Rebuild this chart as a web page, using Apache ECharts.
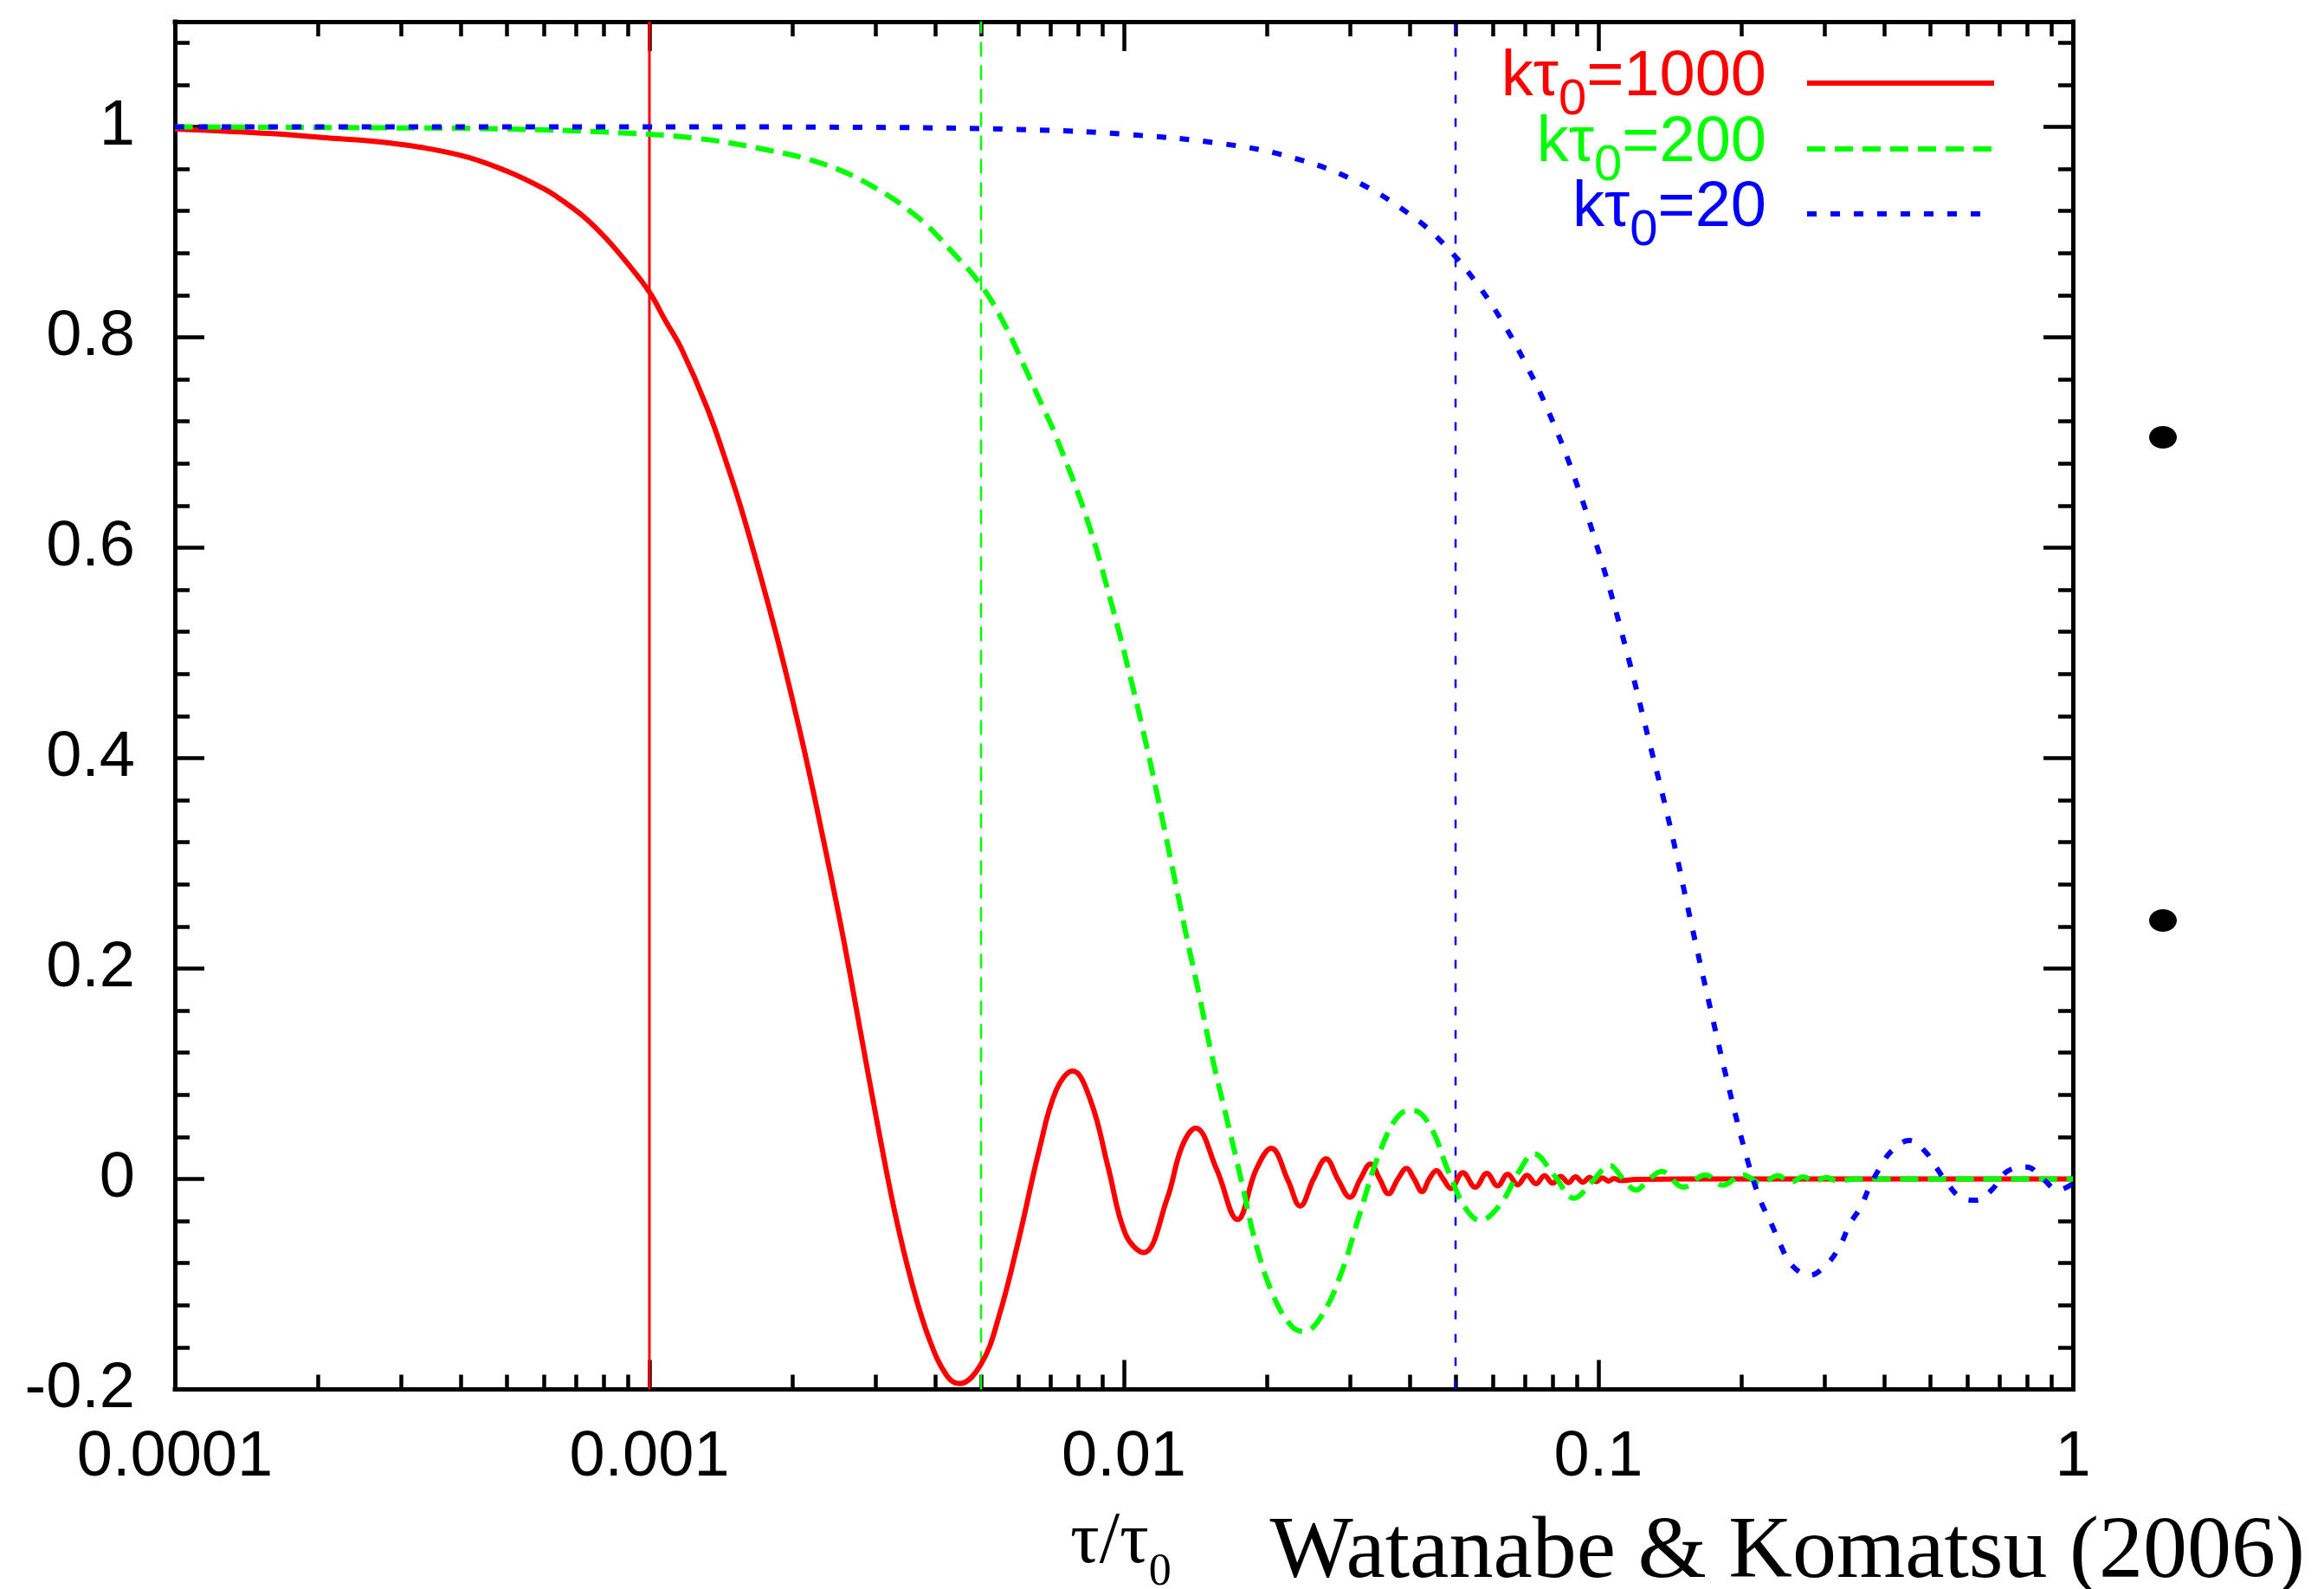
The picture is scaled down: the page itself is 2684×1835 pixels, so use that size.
<!DOCTYPE html>
<html>
<head>
<meta charset="utf-8">
<script src="https://cdn.jsdelivr.net/npm/echarts@6/dist/echarts.min.js"></script>
<style>
html,body{margin:0;padding:0;background:#ffffff;}
#chart{width:2684px;height:1835px;}
</style>
</head>
<body>
<div id="chart"></div>
<script>
// ---------------- data ----------------
const seriesNames = ['kτ0=1000', 'kτ0=200', 'kτ0=20'];
const legendValues = ['1000', '200', '20'];

const redX = [0.0001, 0.00016, 0.00021, 0.00028, 0.0004, 0.0005, 0.0006, 0.00066, 0.00073, 0.00081, 0.0009, 0.001, 0.00108, 0.001167,
  0.001323, 0.00146, 0.001588, 0.001852, 0.0021, 0.002317, 0.002556, 0.00278, 0.003023, 0.003289,
  0.003578, 0.00389, 0.00423, 0.0045, 0.005, 0.00545, 0.006, 0.00662, 0.0072, 0.0078,
  0.00852, 0.00927, 0.01008, 0.0110, 0.01233, 0.01326, 0.01417, 0.01569, 0.01736, 0.019,
  0.02045, 0.0222, 0.02352, 0.0251, 0.02667, 0.0283, 0.02994, 0.0315, 0.0331, 0.0346,
  0.0361, 0.0378, 0.0394, 0.0409, 0.0425, 0.044, 0.0456, 0.0471, 0.0489, 0.0518,
  0.055, 0.0582, 0.0613, 0.0644, 0.0676, 0.0707, 0.0739, 0.077, 0.0801, 0.0833,
  0.0864, 0.0895, 0.0927, 0.0958, 0.099, 0.102, 0.105, 0.108, 0.111, 0.12, 0.15, 1];
const redY = [0.998, 0.9936, 0.9895, 0.985, 0.973, 0.958, 0.941, 0.929, 0.914, 0.894, 0.870, 0.843, 0.816, 0.7895,
  0.733, 0.678, 0.626, 0.517, 0.4156, 0.3262, 0.2315, 0.142, 0.0527, -0.0314,
  -0.0998, -0.1524, -0.1866, -0.1945, -0.176, -0.131, -0.0578, 0.0264, 0.0844, 0.1026,
  0.0737, 0.0106, -0.0525, -0.0700, -0.019, 0.031, 0.0484, 0.009, -0.0385, 0.009,
  0.0292, -0.002, -0.0257, 0.0, 0.0191, -0.001, -0.0174, 0.0, 0.0142, 0.0,
  -0.0140, 0.0, 0.010, 0.0, -0.012, 0.0, 0.008, 0.0, -0.009, 0.006,
  -0.0078, 0.0053, -0.0065, 0.0045, -0.0055, 0.0035, -0.0045, 0.003, -0.004, 0.0025,
  -0.0035, 0.002, -0.003, 0.0015, -0.0025, 0.001, -0.002, 0.0005, -0.0015, -0.0005, 0.0, 0.0];

const greenX = [0.0001, 0.0003, 0.0005, 0.00081, 0.001234, 0.001776, 0.002317, 0.00294, 0.00368, 0.00435,
  0.005, 0.0056, 0.00626, 0.00681, 0.00716, 0.00835, 0.00953, 0.01037, 0.0109, 0.01172,
  0.01353, 0.01441, 0.0153, 0.01646, 0.0177, 0.019, 0.0207, 0.02253, 0.02393, 0.026,
  0.02868, 0.03157, 0.03477, 0.0383, 0.0407, 0.04426, 0.04815, 0.05236, 0.0563, 0.0621,
  0.06833, 0.0731, 0.0808, 0.0889, 0.0972, 0.1056, 0.1128, 0.120, 0.128, 0.1359,
  0.151, 0.168, 0.183, 0.2015, 0.22, 0.239, 0.255, 0.27, 0.286, 0.302, 0.318, 0.35, 1];
const greenY = [1.0, 0.999, 0.998, 0.995, 0.9895, 0.978, 0.965, 0.944, 0.914, 0.881,
  0.8495, 0.8125, 0.766, 0.730, 0.708, 0.628, 0.538, 0.473, 0.432, 0.368,
  0.232, 0.175, 0.1184, 0.058, -0.0023, -0.0627, -0.112, -0.1395, -0.145, -0.1313,
  -0.09, -0.0298, 0.0278, 0.0621, 0.065, 0.0498, 0.0086, -0.027, -0.0393, -0.0243,
  0.0086, 0.0240, 0.003, -0.0183, -0.002, 0.0128, 0.0, -0.0105, 0.0, 0.0072,
  -0.0078, 0.004, -0.006, 0.004, -0.004, 0.003, -0.003, 0.002, -0.002, 0.0015, -0.0015, 0.0, 0.0];

const blueX = [0.0001, 0.001, 0.003, 0.00662, 0.01, 0.01612, 0.02257, 0.0309, 0.0412, 0.0486,
  0.0561, 0.0633, 0.0705, 0.0777, 0.0882, 0.1014, 0.1146, 0.1276, 0.142, 0.1563,
  0.1726, 0.1915, 0.2077, 0.2197, 0.2317, 0.242, 0.2555, 0.2784, 0.3036, 0.3237,
  0.338, 0.3568, 0.3725, 0.393, 0.4148, 0.4519, 0.4875, 0.5145, 0.543, 0.5795,
  0.6247, 0.674, 0.7266, 0.80, 0.863, 0.931, 1.0];
const blueY = [1.0, 1.0, 0.9995, 0.997, 0.993, 0.984, 0.971, 0.948, 0.9126, 0.8825,
  0.848, 0.812, 0.7735, 0.734, 0.672, 0.588, 0.5022, 0.418, 0.333, 0.2465,
  0.160, 0.0733, 0.0128, -0.0208, -0.043, -0.0627, -0.0819, -0.0915, -0.0805, -0.0627,
  -0.0435, -0.027, -0.0078, 0.0114, 0.0265, 0.0366, 0.0265, 0.0114, -0.0037, -0.0174,
  -0.0202, -0.0105, 0.0072, 0.0114, 0.0004, -0.0105, -0.0045];

const vLineX = [0.001, 0.005, 0.05];

const xMajorTicks = [0.0001, 0.001, 0.01, 0.1, 1];
const xTickLabels = ['0.0001', '0.001', '0.01', '0.1', '1'];
const xMinorTicks = [0.0002, 0.0003, 0.0004, 0.0005, 0.0006, 0.0007, 0.0008, 0.0009,
  0.002, 0.003, 0.004, 0.005, 0.006, 0.007, 0.008, 0.009,
  0.02, 0.03, 0.04, 0.05, 0.06, 0.07, 0.08, 0.09,
  0.2, 0.3, 0.4, 0.5, 0.6, 0.7, 0.8, 0.9];
const yMajorTicks = [-0.2, 0, 0.2, 0.4, 0.6, 0.8, 1];
const yTickLabels = ['-0.2', '0', '0.2', '0.4', '0.6', '0.8', '1'];
const yMinorTicks = [-0.16, -0.12, -0.08, -0.04, 0.04, 0.08, 0.12, 0.16, 0.24, 0.28, 0.32, 0.36,
  0.44, 0.48, 0.52, 0.56, 0.64, 0.68, 0.72, 0.76, 0.84, 0.88, 0.92, 0.96, 1.04, 1.08];

// ---------------- styling ----------------
const SANS = '"Liberation Sans", Arial, Helvetica, sans-serif';
const SERIF = '"Liberation Serif", "Times New Roman", serif';
const colors = ['#ff0000', '#00ff00', '#0000ff'];
const curveTypes = ['solid', [21, 11], [11, 16]];
const vLineTypes = ['solid', [17, 10], [10, 17]];
const legendTops = [47.5, 123.5, 198.5];

const zip = (xs, ys) => xs.map((x, i) => [x, ys[i]]);
const tickLine = { color: '#000', width: 4.5 };
const frameLine = { show: true, onZero: false, lineStyle: { color: '#000', width: 5, cap: 'square' } };
const noLine = { show: false, onZero: false };

function xAxisDef(pos, major) {
  return {
    type: 'log', logBase: 10, min: 0.0001, max: 1, position: pos,
    axisLine: major ? frameLine : noLine,
    axisTick: { show: true, inside: true, length: major ? 34 : 17, lineStyle: tickLine,
      customValues: major ? xMajorTicks : xMinorTicks },
    axisLabel: (major && pos === 'bottom') ? {
      show: true, margin: 42, fontSize: 74, fontFamily: SANS, color: '#000',
      customValues: xMajorTicks,
      formatter: v => {
        const i = xMajorTicks.findIndex(t => Math.abs(Math.log10(t) - Math.log10(v)) < 1e-6);
        return i >= 0 ? xTickLabels[i] : '';
      }
    } : { show: false },
    splitLine: { show: false }, minorTick: { show: false }, minorSplitLine: { show: false }
  };
}
function yAxisDef(pos, major) {
  return {
    type: 'value', min: -0.2, max: 1.1, interval: 0.2, position: pos,
    axisLine: major ? frameLine : noLine,
    axisTick: { show: true, inside: true, length: major ? 34 : 17, lineStyle: tickLine,
      customValues: major ? yMajorTicks : yMinorTicks },
    axisLabel: (major && pos === 'left') ? {
      show: true, margin: 46, fontSize: 74, fontFamily: SANS, color: '#000',
      customValues: yMajorTicks,
      formatter: v => {
        const i = yMajorTicks.findIndex(t => Math.abs(t - v) < 1e-9);
        return i >= 0 ? yTickLabels[i] : '';
      }
    } : { show: false },
    splitLine: { show: false }
  };
}

const curves = [zip(redX, redY), zip(greenX, greenY), zip(blueX, blueY)];

const series = [];
vLineX.forEach((x, i) => {
  series.push({
    type: 'line', name: 'v' + i, xAxisIndex: 0, yAxisIndex: 0,
    data: [[x, -0.2], [x, 1.1]], symbol: 'none', silent: true, z: 1,
    lineStyle: { color: colors[i], width: i === 0 ? 3 : 2.5, type: vLineTypes[i] }
  });
});
curves.forEach((d, i) => {
  series.push({
    type: 'line', name: seriesNames[i], xAxisIndex: 0, yAxisIndex: 0,
    data: d, symbol: 'none', showSymbol: false, smooth: 0.4, z: 2 + i,
    lineStyle: { color: colors[i], width: 6, type: curveTypes[i] },
    itemStyle: { color: colors[i] }
  });
});

const legends = seriesNames.map((nm, i) => ({
  data: [nm], orient: 'vertical', align: 'right', right: 378, top: legendTops[i],
  padding: 0, itemWidth: 216, itemHeight: 10, selectedMode: false,
  itemStyle: { opacity: 0 },
  lineStyle: { width: 6 },
  formatter: () => '{m|kτ}{s|0}{m|=' + legendValues[i] + '}',
  textStyle: {
    color: colors[i], fontFamily: SANS, fontSize: 74, padding: [0, 42, 0, 0],
    rich: {
      m: { fontSize: 74, lineHeight: 74, fontFamily: SANS, color: colors[i], padding: [0, 0, 12, 0] },
      s: { fontSize: 58, lineHeight: 58, fontFamily: SANS, color: colors[i], padding: [39, 0, 0, 0] }
    }
  }
}));

const option = {
  animation: false,
  backgroundColor: '#ffffff',
  grid: { left: 202, right: 290, top: 25, bottom: 230.5, containLabel: false },
  xAxis: [xAxisDef('bottom', true), xAxisDef('bottom', false), xAxisDef('top', true), xAxisDef('top', false)],
  yAxis: [yAxisDef('left', true), yAxisDef('left', false), yAxisDef('right', true), yAxisDef('right', false)],
  legend: legends,
  series: series,
  graphic: [
    { type: 'text', x: 1236, y: 1740, silent: true,
      style: { text: '{a|τ/τ}{b|0}', x: 0, y: 0, align: 'left', verticalAlign: 'top', fill: '#000',
        rich: {
          a: { fontSize: 84, lineHeight: 84, fontFamily: SERIF, fill: '#000', verticalAlign: 'top' },
          b: { fontSize: 52, lineHeight: 52, fontFamily: SERIF, fill: '#000', verticalAlign: 'top', padding: [50, 0, 0, 0] }
        } } },
    { type: 'text', x: 2662, y: 1794, silent: true,
      style: { text: 'Watanabe & Komatsu (2006)', align: 'right', verticalAlign: 'middle',
        font: '102px ' + SERIF, fill: '#000' } },
    { type: 'ellipse', shape: { cx: 2498, cy: 505, rx: 16, ry: 13 }, style: { fill: '#000' }, silent: true },
    { type: 'ellipse', shape: { cx: 2498, cy: 1063, rx: 16, ry: 13 }, style: { fill: '#000' }, silent: true }
  ]
};

const chart = echarts.init(document.getElementById('chart'), null, { renderer: 'canvas' });
chart.setOption(option);
</script>
</body>
</html>
